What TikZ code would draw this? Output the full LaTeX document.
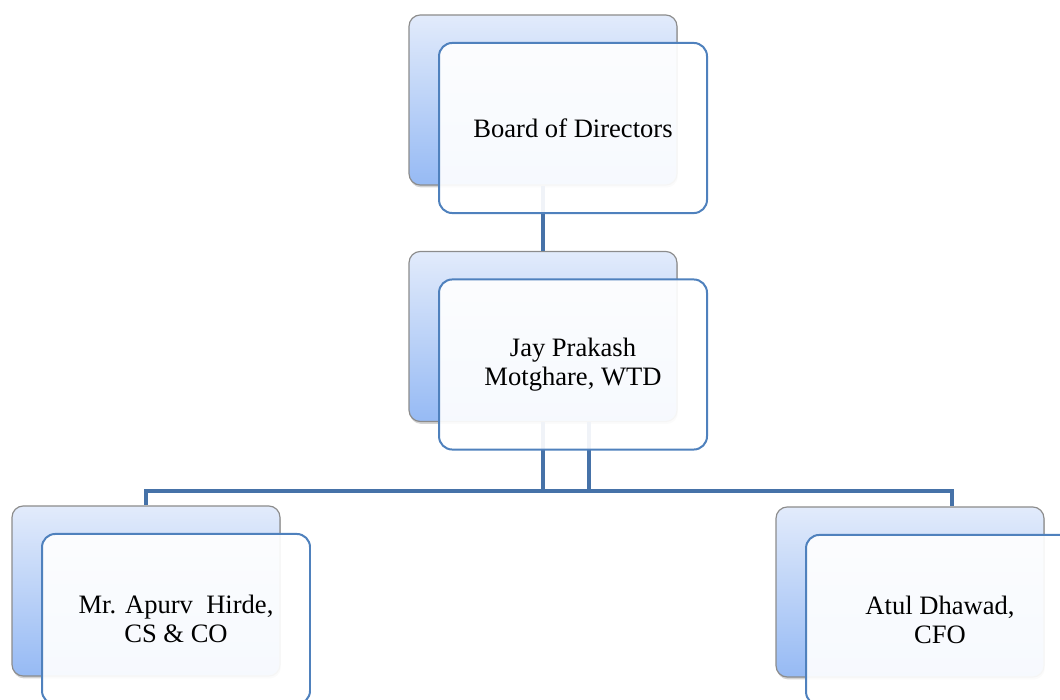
\documentclass[tikz,border=0pt]{standalone}
\usepackage{fontspec}
\setmainfont{Liberation Serif}
\usepackage{xcolor}
\usepackage{tikz}
\usetikzlibrary{positioning, shadows}
\definecolor{backtop}{RGB}{226,235,251}
\definecolor{backbot}{RGB}{150,186,244}
\definecolor{frontline}{RGB}{79,129,189}
\definecolor{linkblue}{RGB}{70,114,168}
\tikzstyle{backbox} = [rectangle, rounded corners=0.3cm, minimum width=7.09cm, minimum height=4.5cm, draw=gray!90, line width=0.9pt, top color=backtop, bottom color=backbot, drop shadow={shadow xshift=0.6pt, shadow yshift=-1.8pt, opacity=0.35}]
\tikzstyle{frontbox} = [rectangle, rounded corners=0.35cm, minimum width=7.09cm, minimum height=4.5cm, text centered, draw=frontline, line width=1.5pt, fill=white, fill opacity=0.92, text opacity=1, font=\fontsize{20}{22}\selectfont]
\tikzstyle{link} = [line width=3pt, draw=linkblue]
\tikzset{every node/.style={align=center}}

\begin{document}
\begin{tikzpicture}[node distance=6.257cm]
    \useasboundingbox (0,0) rectangle (28.046,-18.521);
    \node (board) [backbox] at (14.367,-2.646) {};
    \node (wtd) [backbox, below of=board] {};
    \node (cs) [backbox, below of=wtd, xshift=-10.504cm, yshift=-0.477cm] {};
    \node (cfo) [backbox, below of=wtd, xshift=9.71cm, yshift=-0.503cm] {};

    \draw [link] (board.south) -- (wtd.north);
    \draw [link] (wtd.south) -- ++(0,-1.826) -| ([xshift=1.11cm]cfo.north);
    \draw [link] ([xshift=1.217cm]wtd.south) -- ++(0,-1.826) -| (cs.north);

    \node (boardfront) [frontbox, xshift=0.794cm, yshift=-0.741cm] at (board) {Board of Directors};
    \node (wtdfront) [frontbox, xshift=0.794cm, yshift=-0.741cm] at (wtd) {Jay Prakash\\Motghare, WTD};
    \node (csfront) [frontbox, xshift=0.794cm, yshift=-0.741cm] at (cs) {Mr. Apurv\ \ Hirde,\\CS \& CO};
    \node (cfofront) [frontbox, xshift=0.794cm, yshift=-0.741cm] at (cfo) {Atul Dhawad,\\CFO};
\end{tikzpicture}
\end{document}
